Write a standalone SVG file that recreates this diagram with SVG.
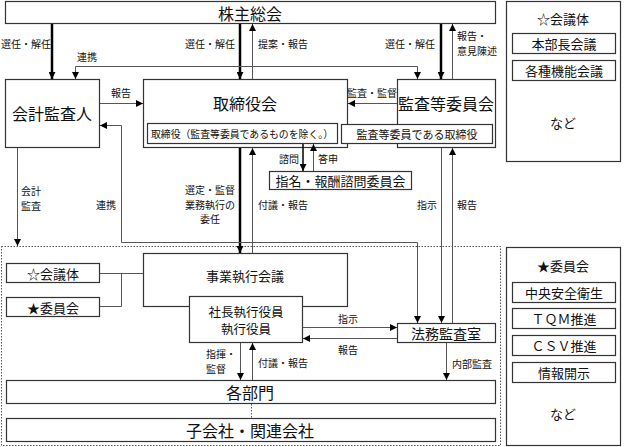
<svg xmlns="http://www.w3.org/2000/svg" width="624" height="447" viewBox="0 0 624 447">
<defs>
<marker id="ah" viewBox="0 0 10 10" refX="10" refY="5" markerWidth="7" markerHeight="7" markerUnits="userSpaceOnUse" orient="auto-start-reverse"><path d="M0,0 L10,5 L0,10 z" fill="#000"/></marker>
<style>
text{font-family:"Noto Sans CJK JP","Noto Sans CJK SC",sans-serif;fill:#111;text-anchor:middle;dominant-baseline:central}
.box{fill:#fff;stroke:#333;stroke-width:1.2}
.big{font-size:16px}
.mid{font-size:13px}
.lbl{font-size:10px}
.thick{stroke:#000;stroke-width:2.5;fill:none}
.thin{stroke:#555;stroke-width:1;fill:none}
.dot{stroke:#555;stroke-width:1;fill:none;stroke-dasharray:1.5 1.5}
</style>
</defs>
<rect width="624" height="447" fill="#fff"/>

<g id="dotted-region"><rect class="dot" x="1.5" y="246.5" width="499" height="199"/></g>

<g id="kabunushi"><rect class="box" x="5.5" y="1.5" width="490" height="22"/><text class="big" x="250" y="13">株主総会</text></g>

<g id="panel-kaigitai"><rect class="box" x="506.5" y="1.5" width="114" height="160"/>
<text class="mid" x="563" y="18">☆会議体</text>
<rect class="box" x="512.5" y="33.5" width="103" height="20"/><text class="mid" x="564" y="43.5">本部長会議</text>
<rect class="box" x="512.5" y="60.5" width="103" height="20"/><text class="mid" x="564" y="70.5">各種機能会議</text>
<text class="mid" x="563" y="122">など</text></g>

<g id="panel-iinkai"><rect class="box" x="506.5" y="247.5" width="114" height="198"/>
<text class="mid" x="563" y="265">★委員会</text>
<rect class="box" x="512.5" y="282.5" width="103" height="20"/><text class="mid" x="564" y="292.5">中央安全衛生</text>
<rect class="box" x="512.5" y="308.5" width="103" height="20"/><text class="mid" x="564" y="318.5">ＴＱＭ推進</text>
<rect class="box" x="512.5" y="335.5" width="103" height="20"/><text class="mid" x="564" y="345.5">ＣＳＶ推進</text>
<rect class="box" x="512.5" y="362.5" width="103" height="20"/><text class="mid" x="564" y="372.5">情報開示</text>
<text class="mid" x="563" y="413">など</text></g>

<g id="kaikei"><rect class="box" x="5.5" y="79.5" width="94" height="68"/><text class="big" x="52" y="113">会計監査人</text></g>

<g id="torishimariyakukai"><rect class="box" x="143.5" y="79.5" width="204" height="68"/><text class="big" x="245" y="103">取締役会</text></g>

<g id="kansa-iinkai"><rect class="box" x="397.5" y="79.5" width="98" height="68"/><text class="big" x="446" y="103">監査等委員会</text></g>

<g id="torishimariyaku-inner"><rect class="box" x="147.5" y="123.5" width="190" height="20"/><text class="lbl" x="242" y="133.5" style="font-size:10.5px" textLength="182" lengthAdjust="spacingAndGlyphs">取締役（監査等委員であるものを除く。）</text></g>

<g id="kansa-torishimariyaku"><rect class="box" x="341.5" y="124.5" width="151" height="19"/><text x="417" y="134" style="font-size:11px">監査等委員である取締役</text></g>

<g id="shimei"><rect class="box" x="269.5" y="171.5" width="142" height="18"/><text x="340.5" y="180.5" style="font-size:13px">指名・報酬諮問委員会</text></g>

<g id="jigyo"><rect class="box" x="143.5" y="253.5" width="204" height="53"/><text class="mid" x="245" y="275">事業執行会議</text></g>

<g id="shacho"><rect class="box" x="189.5" y="296.5" width="113" height="46"/><text x="246" y="311" style="font-size:12.5px">社長執行役員</text><text x="246" y="328.5" style="font-size:12.5px">執行役員</text></g>

<g id="kaigitai-left"><rect class="box" x="6.5" y="263.5" width="93" height="19"/><text class="mid" x="53" y="273">☆会議体</text></g>
<g id="iinkai-left"><rect class="box" x="6.5" y="297.5" width="93" height="19"/><text class="mid" x="53" y="307">★委員会</text></g>

<g id="homu"><rect class="box" x="397.5" y="323.5" width="98" height="19"/><text x="446" y="333" style="font-size:14px">法務監査室</text></g>

<g id="kakubumon"><rect class="box" x="6.5" y="380.5" width="489" height="23"/><text class="big" x="250" y="392">各部門</text></g>

<g id="kogaisha"><rect class="box" x="6.5" y="418.5" width="489" height="23"/><text class="big" x="250" y="430">子会社・関連会社</text></g>

<g id="connectors">
<line class="thick" x1="52" y1="24" x2="52" y2="79" marker-end="url(#ah)"/>
<line class="thick" x1="240" y1="24" x2="240" y2="79" marker-end="url(#ah)"/>
<line class="thick" x1="441" y1="24" x2="441" y2="79" marker-end="url(#ah)"/>
<line class="thick" x1="240" y1="148" x2="240" y2="253" marker-end="url(#ah)"/>
<line class="thin" x1="252.5" y1="79" x2="252.5" y2="24" marker-end="url(#ah)"/>
<line class="thin" x1="452.5" y1="79" x2="452.5" y2="24" marker-end="url(#ah)"/>
<path class="thin" d="M75.5,79 V66.5 H417.5 V79" marker-start="url(#ah)" marker-end="url(#ah)"/>
<line class="thin" x1="100" y1="103.5" x2="143" y2="103.5" marker-end="url(#ah)"/>
<line class="thin" x1="397" y1="103.5" x2="348" y2="103.5" marker-end="url(#ah)"/>
<line class="thin" x1="303" y1="144" x2="303" y2="171" marker-end="url(#ah)" style="stroke:#000;stroke-width:1.5"/>
<line class="thin" x1="313.5" y1="171" x2="313.5" y2="144" marker-end="url(#ah)"/>
<line class="thin" x1="252.5" y1="253" x2="252.5" y2="148" marker-end="url(#ah)"/>
<line class="thin" x1="17.5" y1="148" x2="17.5" y2="246" marker-end="url(#ah)"/>
<path class="thin" d="M417.5,323 V242.5 H121.5 V125.5 H100" marker-start="url(#ah)" marker-end="url(#ah)"/>
<line class="thin" x1="441.5" y1="148" x2="441.5" y2="323" marker-end="url(#ah)"/>
<line class="thin" x1="452.5" y1="323" x2="452.5" y2="148" marker-end="url(#ah)"/>
<line class="thin" x1="303" y1="327.5" x2="397" y2="327.5" marker-end="url(#ah)"/>
<line class="thin" x1="397" y1="338.5" x2="303" y2="338.5" marker-end="url(#ah)"/>
<line class="thin" x1="446.5" y1="343" x2="446.5" y2="380" marker-end="url(#ah)"/>
<line class="thin" x1="240.5" y1="343" x2="240.5" y2="380" marker-end="url(#ah)"/>
<line class="thin" x1="252.5" y1="380" x2="252.5" y2="343" marker-end="url(#ah)"/>
<line class="dot" x1="251.5" y1="404" x2="251.5" y2="418"/>
<path class="thin" d="M100,273.5 H143 M100,306.5 H121.5 V273.5"/>
</g>

<g id="labels">
<text class="lbl" x="26" y="43">選任・解任</text>
<text class="lbl" x="87" y="56">連携</text>
<text class="lbl" x="210" y="43">選任・解任</text>
<text class="lbl" x="283" y="43">提案・報告</text>
<text class="lbl" x="410" y="43">選任・解任</text>
<text class="lbl" x="457" y="35" style="text-anchor:start">報告・</text>
<text class="lbl" x="457" y="50" style="text-anchor:start">意見陳述</text>
<text class="lbl" x="121" y="92">報告</text>
<text class="lbl" x="372" y="92">監査・監督</text>
<text class="lbl" x="289" y="158">諮問</text>
<text class="lbl" x="328" y="158">答申</text>
<text class="lbl" x="31" y="190">会計</text>
<text class="lbl" x="31" y="205">監査</text>
<text class="lbl" x="106" y="204">連携</text>
<text class="lbl" x="210" y="189.5">選定・監督</text>
<text class="lbl" x="210" y="204">業務執行の</text>
<text class="lbl" x="210" y="218.5">委任</text>
<text class="lbl" x="283" y="204">付議・報告</text>
<text class="lbl" x="427" y="204">指示</text>
<text class="lbl" x="467" y="204">報告</text>
<text class="lbl" x="348" y="318">指示</text>
<text class="lbl" x="348" y="349">報告</text>
<text class="lbl" x="206" y="353.5" style="text-anchor:start">指揮・</text>
<text class="lbl" x="206" y="368.5" style="text-anchor:start">監督</text>
<text class="lbl" x="283" y="362">付議・報告</text>
<text class="lbl" x="472" y="363">内部監査</text>
</g>
</svg>
